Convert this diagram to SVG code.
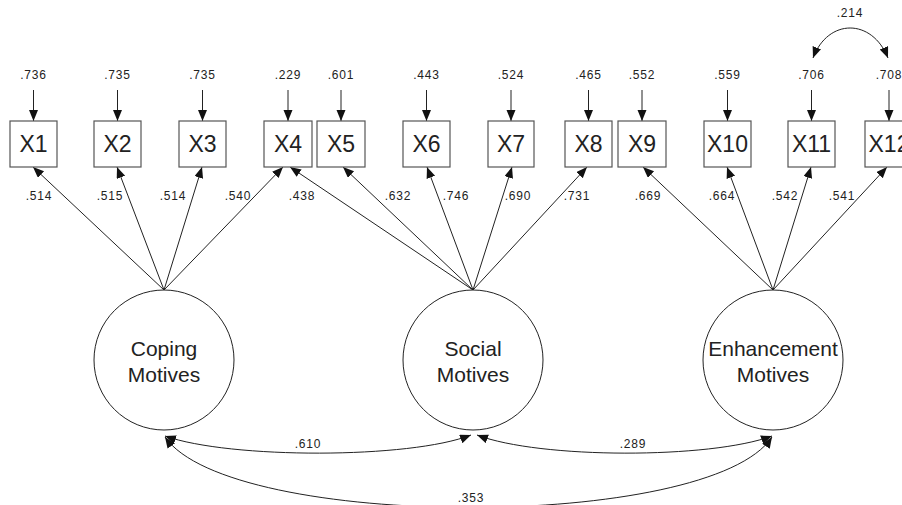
<svg xmlns="http://www.w3.org/2000/svg" width="902" height="505" viewBox="0 0 902 505">
<style>
.box{fill:#fff;stroke:#555;stroke-width:1.2}
.lat{fill:#fff;stroke:#222;stroke-width:1}
.bl{font-family:"Liberation Sans",Arial,sans-serif;font-size:23px;fill:#222;text-anchor:middle}
.ll{font-family:"Liberation Sans",Arial,sans-serif;font-size:21px;fill:#222;text-anchor:middle}
.num{font-family:"Liberation Sans",Arial,sans-serif;font-size:12px;letter-spacing:0.8px;fill:#222;text-anchor:middle}
.c{fill:none;stroke:#222;stroke-width:1;marker-end:url(#ah)}
.cc{fill:none;stroke:#222;stroke-width:1;marker-end:url(#ah);marker-start:url(#ah)}
</style>
<defs>
<marker id="ah" markerUnits="userSpaceOnUse" markerWidth="12" markerHeight="10" refX="11" refY="4.5" orient="auto-start-reverse" viewBox="0 0 12 10">
<path d="M0,0 L11,4.5 L0,9 z" fill="#111"/>
</marker>
</defs>
<rect width="902" height="505" fill="#fff"/>
<g id="connectors">
<line class="c" x1="33.5" y1="90" x2="33.5" y2="121"/>
<line class="c" x1="117.5" y1="90" x2="117.5" y2="121"/>
<line class="c" x1="202.5" y1="90" x2="202.5" y2="121"/>
<line class="c" x1="288" y1="90" x2="288" y2="121"/>
<line class="c" x1="341" y1="90" x2="341" y2="121"/>
<line class="c" x1="426.5" y1="90" x2="426.5" y2="121"/>
<line class="c" x1="511" y1="90" x2="511" y2="121"/>
<line class="c" x1="588.5" y1="90" x2="588.5" y2="121"/>
<line class="c" x1="642" y1="90" x2="642" y2="121"/>
<line class="c" x1="727.5" y1="90" x2="727.5" y2="121"/>
<line class="c" x1="811.5" y1="90" x2="811.5" y2="121"/>
<line class="c" x1="889" y1="90" x2="889" y2="121"/>
<path class="cc" d="M813,58 C828,18 872,18 888,58"/>
<line class="c" x1="164" y1="290" x2="33" y2="167"/>
<line class="c" x1="164" y1="290" x2="117" y2="167"/>
<line class="c" x1="164" y1="290" x2="202" y2="167"/>
<line class="c" x1="164" y1="290" x2="283" y2="167"/>
<line class="c" x1="473" y1="290" x2="290" y2="167"/>
<line class="c" x1="473" y1="290" x2="343" y2="167"/>
<line class="c" x1="473" y1="290" x2="427" y2="167"/>
<line class="c" x1="473" y1="290" x2="512" y2="167"/>
<line class="c" x1="473" y1="290" x2="587" y2="167"/>
<line class="c" x1="773" y1="290" x2="643" y2="167"/>
<line class="c" x1="773" y1="290" x2="727" y2="167"/>
<line class="c" x1="773" y1="290" x2="811" y2="167"/>
<line class="c" x1="773" y1="290" x2="887" y2="167"/>
<path class="cc" d="M165,436 C230,459 410,459 471,435"/>
<path class="cc" d="M477,435 C540,459 710,459 772,436"/>
<path class="cc" d="M165,437 C230,531 710,531 772,437"/>
</g>
<g id="labels">
<text class="num" x="850" y="17">.214</text>
<text class="num" x="33.5" y="79">.736</text>
<text class="num" x="117.5" y="79">.735</text>
<text class="num" x="202.5" y="79">.735</text>
<text class="num" x="288" y="79">.229</text>
<text class="num" x="341" y="79">.601</text>
<text class="num" x="426.5" y="79">.443</text>
<text class="num" x="511" y="79">.524</text>
<text class="num" x="588.5" y="79">.465</text>
<text class="num" x="642" y="79">.552</text>
<text class="num" x="727.5" y="79">.559</text>
<text class="num" x="811.5" y="79">.706</text>
<text class="num" x="889" y="79">.708</text>
<text class="num" x="39" y="200">.514</text>
<text class="num" x="110" y="200">.515</text>
<text class="num" x="173" y="200">.514</text>
<text class="num" x="238" y="200">.540</text>
<text class="num" x="302" y="200">.438</text>
<text class="num" x="398" y="200">.632</text>
<text class="num" x="456" y="200">.746</text>
<text class="num" x="518" y="200">.690</text>
<text class="num" x="577" y="200">.731</text>
<text class="num" x="648" y="200">.669</text>
<text class="num" x="722" y="200">.664</text>
<text class="num" x="785" y="200">.542</text>
<text class="num" x="842" y="200">.541</text>
<text class="num" x="308" y="448">.610</text>
<text class="num" x="633" y="448">.289</text>
<text class="num" x="471" y="502">.353</text>
</g>
<g id="X1"><rect class="box" x="10" y="121" width="47" height="46"/><text class="bl" x="33.5" y="152">X1</text></g>
<g id="X2"><rect class="box" x="94" y="121" width="47" height="46"/><text class="bl" x="117.5" y="152">X2</text></g>
<g id="X3"><rect class="box" x="179" y="121" width="47" height="46"/><text class="bl" x="202.5" y="152">X3</text></g>
<g id="X4"><rect class="box" x="264" y="121" width="48" height="46"/><text class="bl" x="288" y="152">X4</text></g>
<g id="X5"><rect class="box" x="317" y="121" width="48" height="46"/><text class="bl" x="341" y="152">X5</text></g>
<g id="X6"><rect class="box" x="403" y="121" width="47" height="46"/><text class="bl" x="426.5" y="152">X6</text></g>
<g id="X7"><rect class="box" x="488" y="121" width="46" height="46"/><text class="bl" x="511" y="152">X7</text></g>
<g id="X8"><rect class="box" x="565" y="121" width="47" height="46"/><text class="bl" x="588.5" y="152">X8</text></g>
<g id="X9"><rect class="box" x="618" y="121" width="48" height="46"/><text class="bl" x="642" y="152">X9</text></g>
<g id="X10"><rect class="box" x="704" y="121" width="47" height="46"/><text class="bl" x="727.5" y="152">X10</text></g>
<g id="X11"><rect class="box" x="788" y="121" width="47" height="46"/><text class="bl" x="811.5" y="152">X11</text></g>
<g id="X12"><rect class="box" x="865" y="121" width="48" height="46"/><text class="bl" x="889" y="152">X12</text></g>
<g id="coping"><circle class="lat" cx="164" cy="360" r="70"/><text class="ll" x="164" y="356">Coping</text><text class="ll" x="164" y="382">Motives</text></g>
<g id="social"><circle class="lat" cx="473" cy="360" r="70"/><text class="ll" x="473" y="356">Social</text><text class="ll" x="473" y="382">Motives</text></g>
<g id="enhancement"><circle class="lat" cx="773" cy="360" r="70"/><text class="ll" x="773" y="356">Enhancement</text><text class="ll" x="773" y="382">Motives</text></g>
</svg>
